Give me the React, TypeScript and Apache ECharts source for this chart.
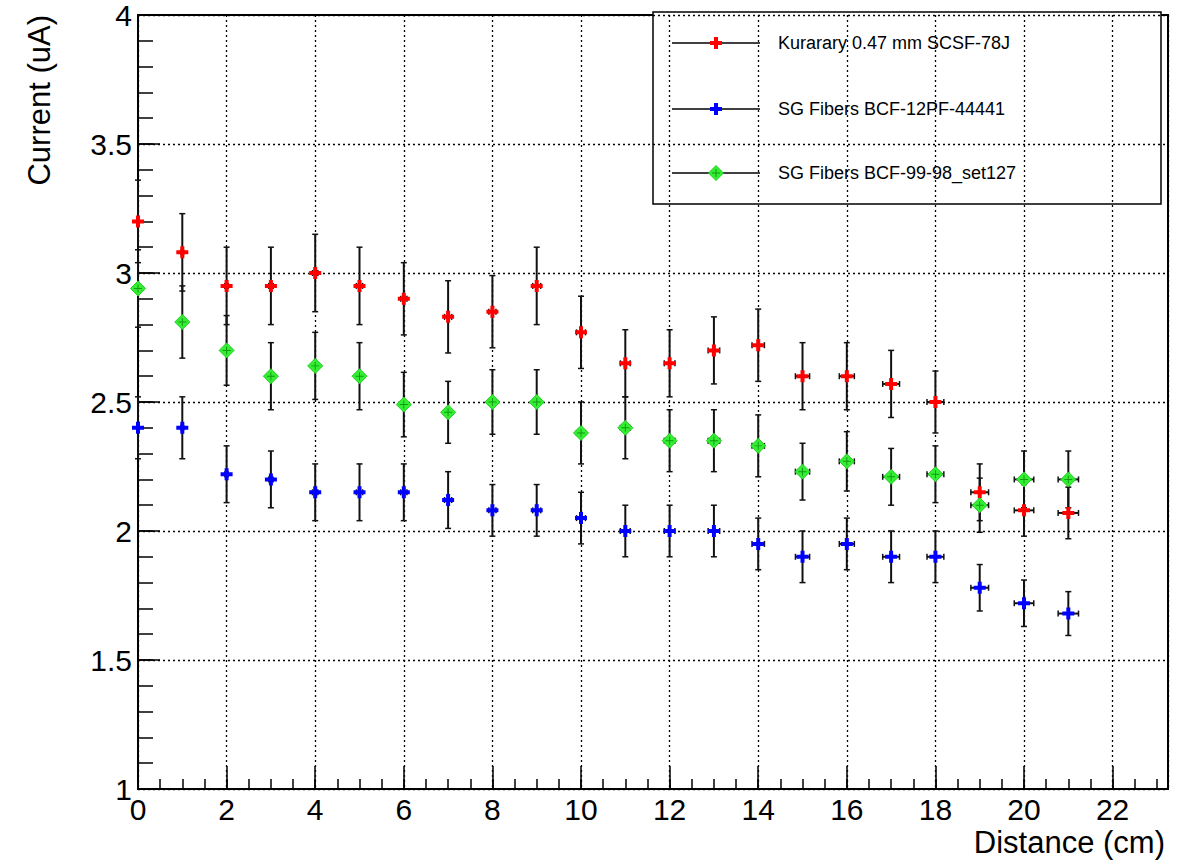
import React, { useEffect, useRef } from "react";
import * as echarts from "echarts";

const distance = [0, 1, 2, 3, 4, 5, 6, 7, 8, 9, 10, 11, 12, 13, 14, 15, 16, 17, 18, 19, 20, 21];
const distanceErr = [0.02, 0.03, 0.04, 0.05, 0.06, 0.07, 0.07, 0.08, 0.08, 0.09, 0.1, 0.11, 0.12, 0.13, 0.14, 0.16, 0.17, 0.19, 0.19, 0.2, 0.22, 0.23];

const kuraray = [3.2, 3.08, 2.95, 2.95, 3.0, 2.95, 2.9, 2.83, 2.85, 2.95, 2.77, 2.65, 2.65, 2.7, 2.72, 2.6, 2.6, 2.57, 2.5, 2.15, 2.08, 2.07];
const kurarayErr = [0.16, 0.15, 0.15, 0.15, 0.15, 0.15, 0.14, 0.14, 0.14, 0.15, 0.14, 0.13, 0.13, 0.13, 0.14, 0.13, 0.13, 0.13, 0.12, 0.11, 0.1, 0.1];

const sg12 = [2.4, 2.4, 2.22, 2.2, 2.15, 2.15, 2.15, 2.12, 2.08, 2.08, 2.05, 2.0, 2.0, 2.0, 1.95, 1.9, 1.95, 1.9, 1.9, 1.78, 1.72, 1.68];
const sg12Err = [0.12, 0.12, 0.11, 0.11, 0.11, 0.11, 0.11, 0.11, 0.1, 0.1, 0.1, 0.1, 0.1, 0.1, 0.1, 0.1, 0.1, 0.1, 0.1, 0.09, 0.09, 0.085];

const sg99 = [2.94, 2.81, 2.7, 2.6, 2.64, 2.6, 2.49, 2.46, 2.5, 2.5, 2.38, 2.4, 2.35, 2.35, 2.33, 2.23, 2.27, 2.21, 2.22, 2.1, 2.2, 2.2];
const sg99Err = [0.15, 0.14, 0.135, 0.13, 0.13, 0.13, 0.125, 0.12, 0.125, 0.125, 0.12, 0.12, 0.12, 0.12, 0.12, 0.11, 0.115, 0.11, 0.11, 0.105, 0.11, 0.11];

const seriesNames = ["Kurarary 0.47 mm SCSF-78J", "SG Fibers BCF-12PF-44441", "SG Fibers BCF-99-98_set127"];

const FONT = "Liberation Sans, Arial, Helvetica, sans-serif";
const CROSS = "path://M4,0H8V4H12V8H8V12H4V8H0V4H4Z";
const THIN_CROSS = "path://M4.4,0H5.6V4.4H10V5.6H5.6V10H4.4V5.6H0V4.4H4.4Z";

function errData(ys: number[], es: number[]) {
  return distance.map((d, i) => [d, ys[i], distanceErr[i], es[i]]);
}
function ptData(ys: number[]) {
  return distance.map((d, i) => [d, ys[i]]);
}

function renderErr(params: any, api: any) {
  const x = api.value(0);
  const y = api.value(1);
  const ex = api.value(2);
  const ey = api.value(3);
  const t = api.coord([x, y + ey]);
  const b = api.coord([x, y - ey]);
  const l = api.coord([x - ex, y]);
  const r = api.coord([x + ex, y]);
  const st = { stroke: "#111", lineWidth: 2 };
  const cs = { stroke: "#111", lineWidth: 1.5 };
  const cap = 3;
  return {
    type: "group",
    children: [
      { type: "line", shape: { x1: t[0], y1: t[1], x2: b[0], y2: b[1] }, style: st },
      { type: "line", shape: { x1: t[0] - cap, y1: t[1], x2: t[0] + cap, y2: t[1] }, style: cs },
      { type: "line", shape: { x1: b[0] - cap, y1: b[1], x2: b[0] + cap, y2: b[1] }, style: cs },
      { type: "line", shape: { x1: l[0], y1: l[1], x2: r[0], y2: r[1] }, style: st },
      { type: "line", shape: { x1: l[0], y1: l[1] - cap, x2: l[0], y2: l[1] + cap }, style: cs },
      { type: "line", shape: { x1: r[0], y1: r[1] - cap, x2: r[0], y2: r[1] + cap }, style: cs },
    ],
  };
}

function crossPts(cx: number, cy: number) {
  const a = 2, b = 6;
  return [
    [cx - a, cy - b], [cx + a, cy - b], [cx + a, cy - a], [cx + b, cy - a], [cx + b, cy + a], [cx + a, cy + a],
    [cx + a, cy + b], [cx - a, cy + b], [cx - a, cy + a], [cx - b, cy + a], [cx - b, cy - a], [cx - a, cy - a],
  ];
}

function legendEntry(y: number, color: string, name: string, diamond: boolean) {
  const cx = 716;
  const items: any[] = [
    { type: "line", shape: { x1: 672, y1: y, x2: 760, y2: y }, style: { stroke: "#000", lineWidth: 1.5 } },
  ];
  if (diamond) {
    items.push({
      type: "polygon",
      shape: { points: [[cx, y - 7.5], [cx + 7.5, y], [cx, y + 7.5], [cx - 7.5, y]] },
      style: { fill: "#33ee33", stroke: "#22cc22", lineWidth: 1 },
    });
    items.push({ type: "line", shape: { x1: cx - 4, y1: y, x2: cx + 4, y2: y }, style: { stroke: "#119911", lineWidth: 1 } });
    items.push({ type: "line", shape: { x1: cx, y1: y - 4, x2: cx, y2: y + 4 }, style: { stroke: "#119911", lineWidth: 1 } });
  } else {
    items.push({ type: "polygon", shape: { points: crossPts(cx, y) }, style: { fill: color } });
  }
  items.push({
    type: "text",
    x: 778,
    y: y,
    style: { text: name, fontSize: 18, fontFamily: FONT, fill: "#000", align: "left", verticalAlign: "middle" },
  });
  return items;
}

export default function App() {
  const ref = useRef<HTMLDivElement>(null);
  useEffect(() => {
    if (!ref.current) return;
    const chart = echarts.init(ref.current, undefined, { renderer: "svg" });
    const tickLine = { color: "#000", width: 1.5 };
    const gridLine = { type: [2, 3], color: "#000", width: 1.3 };
    const option: any = {
      animation: false,
      backgroundColor: "#fff",
      grid: { left: 138, top: 13, right: 17, bottom: 71, show: true, borderColor: "#000", borderWidth: 2, backgroundColor: "transparent" },
      xAxis: [
        {
          type: "value", min: 0, max: 23.25, interval: 2, position: "bottom",
          axisLine: { show: true, onZero: false, lineStyle: { color: "#000", width: 2 } },
          axisTick: { show: true, inside: true, length: 23, lineStyle: tickLine },
          axisLabel: { show: true, fontSize: 30, color: "#000", fontFamily: FONT, margin: 5, showMaxLabel: false },
          splitLine: { show: true, lineStyle: gridLine },
        },
        {
          type: "value", min: 0, max: 23.25, interval: 0.5, position: "bottom",
          axisLine: { show: false, onZero: false },
          axisTick: { show: true, inside: true, length: 10, lineStyle: tickLine },
          axisLabel: { show: false },
          splitLine: { show: false },
        },
      ],
      yAxis: [
        {
          type: "value", min: 1, max: 4, interval: 0.5, position: "left",
          axisLine: { show: true, onZero: false, lineStyle: { color: "#000", width: 2 } },
          axisTick: { show: true, inside: true, length: 22, lineStyle: tickLine },
          axisLabel: { show: true, fontSize: 30, color: "#000", fontFamily: FONT, margin: 6 },
          splitLine: { show: true, lineStyle: gridLine },
        },
        {
          type: "value", min: 1, max: 4, interval: 0.1, position: "left",
          axisLine: { show: false, onZero: false },
          axisTick: { show: true, inside: true, length: 15, lineStyle: tickLine },
          axisLabel: { show: false },
          splitLine: { show: false },
        },
      ],
      series: [
        { type: "custom", name: seriesNames[0] + " err", renderItem: renderErr, data: errData(kuraray, kurarayErr), encode: { x: 0, y: 1 }, z: 2, clip: false },
        { type: "custom", name: seriesNames[1] + " err", renderItem: renderErr, data: errData(sg12, sg12Err), encode: { x: 0, y: 1 }, z: 2, clip: false },
        { type: "custom", name: seriesNames[2] + " err", renderItem: renderErr, data: errData(sg99, sg99Err), encode: { x: 0, y: 1 }, z: 2, clip: false },
        { type: "scatter", name: seriesNames[0], data: ptData(kuraray), symbol: CROSS, symbolSize: 12, itemStyle: { color: "#ff0000", opacity: 1 }, z: 3, clip: false },
        { type: "scatter", name: seriesNames[1], data: ptData(sg12), symbol: CROSS, symbolSize: 12, itemStyle: { color: "#0000ff", opacity: 1 }, z: 3, clip: false },
        { type: "scatter", name: seriesNames[2], data: ptData(sg99), symbol: "diamond", symbolSize: 15, itemStyle: { color: "#33ee33", borderColor: "#22cc22", borderWidth: 1, opacity: 1 }, z: 3, clip: false },
        { type: "scatter", name: seriesNames[2] + " inner", data: ptData(sg99), symbol: THIN_CROSS, symbolSize: 8, itemStyle: { color: "#119911", opacity: 1 }, z: 4, clip: false, silent: true },
      ],
      graphic: [
        {
          type: "text", x: 1165, y: 842,
          style: { text: "Distance (cm)", fontSize: 31, fontFamily: FONT, fill: "#000", align: "right", verticalAlign: "middle" },
        },
        {
          type: "text", x: 39, y: 15, rotation: Math.PI / 2,
          style: { text: "Current (uA)", fontSize: 31, fontFamily: FONT, fill: "#000", align: "right", verticalAlign: "middle" },
        },
        {
          type: "group", z: 100,
          children: [
            { type: "rect", shape: { x: 653, y: 12, width: 508, height: 192 }, style: { fill: "#fff", stroke: "#000", lineWidth: 1.5 } },
            ...legendEntry(43, "#ff0000", seriesNames[0], false),
            ...legendEntry(109, "#0000ff", seriesNames[1], false),
            ...legendEntry(173, "#33ee33", seriesNames[2], true),
          ],
        },
      ],
    };
    chart.setOption(option);
    return () => chart.dispose();
  }, []);
  return <div ref={ref} style={{ position: "absolute", left: 0, top: 0, width: 1185, height: 860 }} />;
}
